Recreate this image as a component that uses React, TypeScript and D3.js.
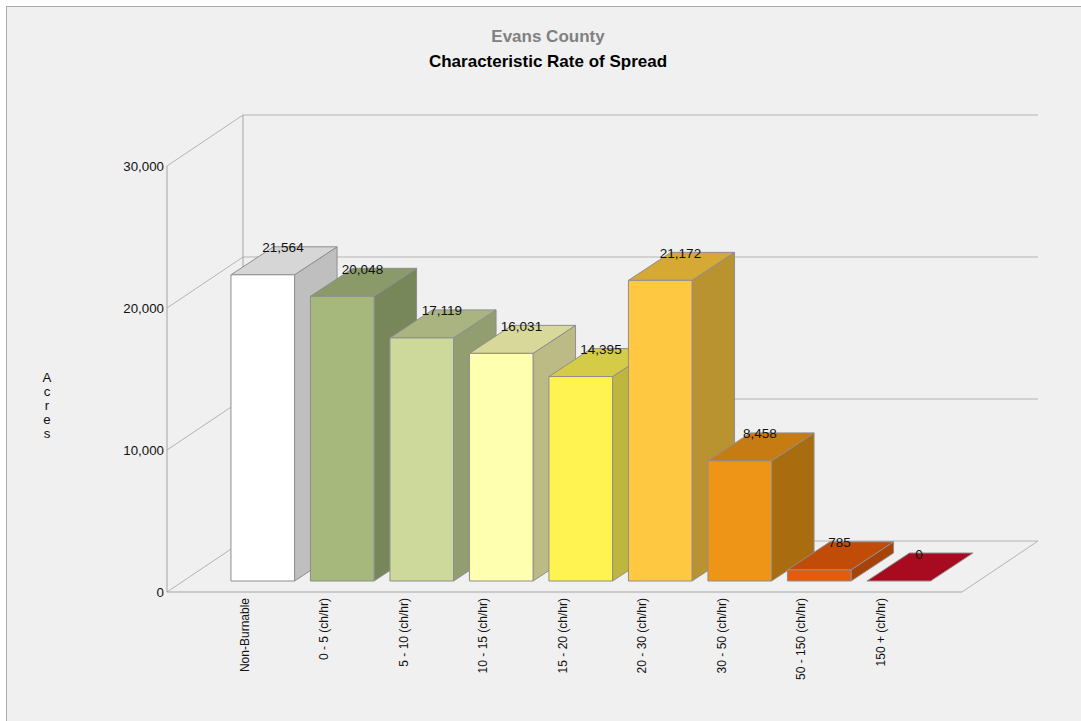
import React from "react";
import * as d3 from "d3";

const categories = ["Non-Burnable","0 - 5 (ch/hr)","5 - 10 (ch/hr)","10 - 15 (ch/hr)","15 - 20 (ch/hr)","20 - 30 (ch/hr)","30 - 50 (ch/hr)","50 - 150 (ch/hr)","150 + (ch/hr)"];
const acres = [21564,20048,17119,16031,14395,21172,8458,785,0];
const frontColors = ["#ffffff","#a6b87c","#ccd99b","#ffffb0","#fff352","#ffc840","#ee9517","#e55b0a","#a80a20"];
const topColors = ["#d6d6d6","#8a9a68","#a9b481","#d8d89a","#d4cc46","#d6a935","#c77c13","#c04c08","#a80a20"];
const sideColors = ["#bfbfbf","#78875a","#939e70","#bcbb85","#bfb63f","#b9932f","#a96d10","#a84307","#a80a20"];
const yTicks = [0,10000,20000,30000];

const FONT = "'Liberation Sans', Arial, sans-serif";
const floorY = 592, wallTop = 166, left = 167, right = 962;
const wallDx = 76, wallDy = -51;
const barDx = 42.5, barDy = -28, barBase = 581;
const GRID = "#b4b4b4", AXIS = "#a4a4a4", EDGE = "#8e8e8e";

const y = d3.scaleLinear().domain([0,30000]).range([floorY,wallTop]);
const x = d3.scaleBand<string>().domain(categories).range([223,938.5]).paddingInner(0.2).paddingOuter(0.1);
const fmt = d3.format(",");
const poly = (p:[number,number][]) => (d3.line()(p) as string) + "Z";

export default function App(){
  const bw = x.bandwidth();
  return (
    <svg width={1081} height={721} style={{position:"fixed",left:0,top:0,display:"block"}} fontFamily={FONT}>
      <rect x={0} y={0} width={1081} height={721} fill="#fff"/>
      <rect x={6.5} y={6.5} width={1080} height={720} fill="#f0f0f0" stroke="#ababab"/>
      <text x={548} y={42} textAnchor="middle" fontSize={17} fontWeight="bold" fill="#808080">Evans County</text>
      <text x={548} y={67} textAnchor="middle" fontSize={17} fontWeight="bold" fill="#000">Characteristic Rate of Spread</text>

      {yTicks.map(t=>(
        <g key={t}>
          <line x1={left} y1={y(t)} x2={left+wallDx} y2={y(t)+wallDy} stroke={GRID}/>
          <line x1={left+wallDx} x2={right+wallDx} y1={y(t)+wallDy} y2={y(t)+wallDy} stroke={GRID}/>
          <text x={164} y={y(t)+4.5} textAnchor="end" fontSize={13.3} fill="#111">{fmt(t)}</text>
        </g>
      ))}
      <line x1={left} x2={left} y1={wallTop} y2={floorY} stroke={AXIS}/>
      <line x1={left+wallDx} x2={left+wallDx} y1={wallTop+wallDy} y2={floorY+wallDy} stroke={AXIS}/>
      <line x1={left} x2={right} y1={floorY} y2={floorY} stroke={AXIS}/>
      <line x1={right} x2={right+wallDx} y1={floorY} y2={floorY+wallDy} stroke={GRID}/>

      {"Acres".split("").map((c,i)=>(
        <text key={i} x={47} y={382+i*14} textAnchor="middle" fontSize={13.3} fill="#111">{c}</text>
      ))}

      {categories.map((c,i)=>{
        const x0 = x(c)!, x1 = x0+bw;
        const h = floorY - y(acres[i]);
        const t = barBase - h;
        return (
          <g key={c} stroke={EDGE} strokeWidth={1} strokeLinejoin="round">
            {h>0 && <path d={poly([[x1,t],[x1+barDx,t+barDy],[x1+barDx,barBase+barDy],[x1,barBase]])} fill={sideColors[i]}/>}
            <path d={poly([[x0,t],[x0+barDx,t+barDy],[x1+barDx,t+barDy],[x1,t]])} fill={topColors[i]}/>
            {h>0 && <rect x={x0} y={t} width={bw} height={h} fill={frontColors[i]}/>}
          </g>
        );
      })}
      {categories.map((c,i)=>{
        const t = barBase - (floorY - y(acres[i]));
        return <text key={c} x={x(c)!+bw/2+barDx/2-1} y={t+barDy+5.5} textAnchor="middle" fontSize={13.5} fill="#111">{fmt(acres[i])}</text>;
      })}
      {categories.map(c=>{
        const px = x(c)!+18, py = 598;
        return <text key={c} transform={`translate(${px},${py}) rotate(-90)`} textAnchor="end" fontSize={12} fill="#111">{c}</text>;
      })}
    </svg>
  );
}
